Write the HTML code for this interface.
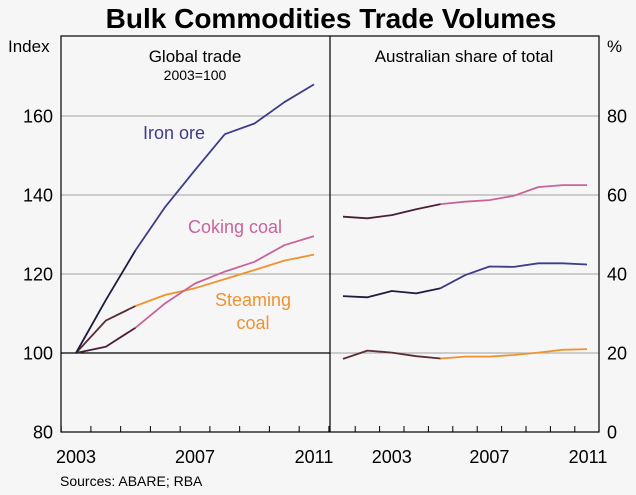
<!DOCTYPE html>
<html><head><meta charset="utf-8"><style>
body{margin:0;background:#f6f6f6;}
svg{display:block;font-family:"Liberation Sans",sans-serif;}
</style></head><body>
<svg width="636" height="495">
<rect width="636" height="495" fill="#f6f6f6"/>
<text x="331" y="28" text-anchor="middle" font-size="28" font-weight="bold">Bulk Commodities Trade Volumes</text>
<g id="grid"></g>
<g id="series"></g>
<rect x="61" y="36" width="538" height="396" fill="none" stroke="#000" stroke-width="1.2"/>
<line x1="330" y1="36" x2="330" y2="432" stroke="#000" stroke-width="1.2"/>
<g id="axes" font-size="18"></g>
<text x="8" y="52" font-size="17">Index</text>
<text x="607" y="52" font-size="17">%</text>
<text x="195" y="62" text-anchor="middle" font-size="17">Global trade</text>
<text x="195" y="80" text-anchor="middle" font-size="14">2003=100</text>
<text x="464" y="62" text-anchor="middle" font-size="17">Australian share of total</text>
<text x="143" y="139" font-size="18" fill="#3d3c8c">Iron ore</text>
<text x="188" y="233" font-size="18" fill="#c8649a">Coking coal</text>
<text x="253" y="306" text-anchor="middle" font-size="18" fill="#f0922e">Steaming</text>
<text x="253" y="329" text-anchor="middle" font-size="18" fill="#f0922e">coal</text>
<text x="60" y="486" font-size="14">Sources: ABARE; RBA</text>
</svg>
<script>
const leftYears=[2003,2004,2005,2006,2007,2008,2009,2010,2011];
const ironGlobal=[100,113.4,126,137,146.3,155.4,158.1,163.5,168];
const cokingGlobal=[100,101.6,106.4,112.6,117.6,120.6,123.1,127.3,129.6];
const steamingGlobal=[100,108.2,111.9,114.7,116.4,118.7,121,123.4,124.9];
const rightYears=[2001,2002,2003,2004,2005,2006,2007,2008,2009,2010,2011];
const ironShare=[34.4,34.1,35.7,35.1,36.4,39.7,41.9,41.8,42.7,42.7,42.4];
const cokingShare=[54.5,54.1,54.9,56.4,57.7,58.3,58.7,59.8,62,62.5,62.5];
const steamingShare=[18.5,20.6,20.1,19.2,18.6,19.1,19.1,19.5,20.1,20.8,21.0];
const leftTicks=[80,100,120,140,160];
const rightTicks=[0,20,40,60,80];
const xLabels=[2003,2007,2011];

const NS='http://www.w3.org/2000/svg';
const xL=y=>76+(y-2003)*29.75;
const yL=v=>432-(v-80)*3.95;
const xR=y=>343+(y-2001)*24.4;
const yR=v=>432-v*3.95;
function mk(tag,attrs,parent){const e=document.createElementNS(NS,tag);for(const k in attrs)e.setAttribute(k,attrs[k]);parent.appendChild(e);return e;}
const grid=document.getElementById('grid'),ser=document.getElementById('series'),ax=document.getElementById('axes');
leftTicks.forEach(v=>{
  if(v>80){const l=mk('line',{x1:61,x2:330,y1:yL(v),y2:yL(v),stroke:v===100?'#000':'#b4b4b4','stroke-width':1.2},grid);
  
  }
  const t=mk('text',{x:53,y:yL(v)+6.5,'text-anchor':'end'},ax);t.textContent=v;
  
  
});
rightTicks.forEach(v=>{
  if(v>0){const l=mk('line',{x1:330,x2:599,y1:yR(v),y2:yR(v),stroke:'#b4b4b4','stroke-width':1.2},grid);
  
  }
  const t=mk('text',{x:607,y:yR(v)+6.5},ax);t.textContent=v;
  
  
});
for(let y=2002;y<=2011;y++){const x=xL(y)+14.9;if(x>61&&x<330){const l=mk('line',{x1:x,x2:x,y1:432,y2:426,stroke:'#000'},ax);
  
  }}
for(let y=2001;y<2011;y++){const x=xR(y)+12.2;const l=mk('line',{x1:x,x2:x,y1:432,y2:426,stroke:'#000'},ax);
  
  }
xLabels.forEach(y=>{
  const t=mk('text',{x:xL(y),y:463,'text-anchor':'middle'},ax);t.textContent=y;
  
  
  const t2=mk('text',{x:xR(y)+(y===2011?1:0),y:463,'text-anchor':'middle'},ax);t2.textContent=y;
  
  
});
function line(years,vals,xf,yf,from,to,color,name){
  const pts=[];years.forEach((y,i)=>{if(y>=from&&y<=to)pts.push(xf(y).toFixed(1)+','+yf(vals[i]).toFixed(1));});
  const p=mk('polyline',{points:pts.join(' '),fill:'none',stroke:color,'stroke-width':1.8,'stroke-linejoin':'round'},ser);
  
  
}
line(leftYears,steamingGlobal,xL,yL,2003,2005,'#5a2e33','steaming-global-early');
line(leftYears,steamingGlobal,xL,yL,2005,2011,'#f0922e','steaming-global-line');
line(leftYears,cokingGlobal,xL,yL,2003,2005,'#4a1f38','coking-global-early');
line(leftYears,cokingGlobal,xL,yL,2005,2011,'#c8649a','coking-global-line');
line(leftYears,ironGlobal,xL,yL,2003,2005,'#1e1c40','iron-global-early');
line(leftYears,ironGlobal,xL,yL,2005,2011,'#3d3c8c','iron-global-line');
line(rightYears,steamingShare,xR,yR,2001,2005,'#5a2e33','steaming-share-early');
line(rightYears,steamingShare,xR,yR,2005,2011,'#f0922e','steaming-share-line');
line(rightYears,cokingShare,xR,yR,2001,2005,'#4a1f38','coking-share-early');
line(rightYears,cokingShare,xR,yR,2005,2011,'#c8649a','coking-share-line');
line(rightYears,ironShare,xR,yR,2001,2005,'#1e1c40','iron-share-early');
line(rightYears,ironShare,xR,yR,2005,2011,'#3d3c8c','iron-share-line');
</script>
</body></html>
